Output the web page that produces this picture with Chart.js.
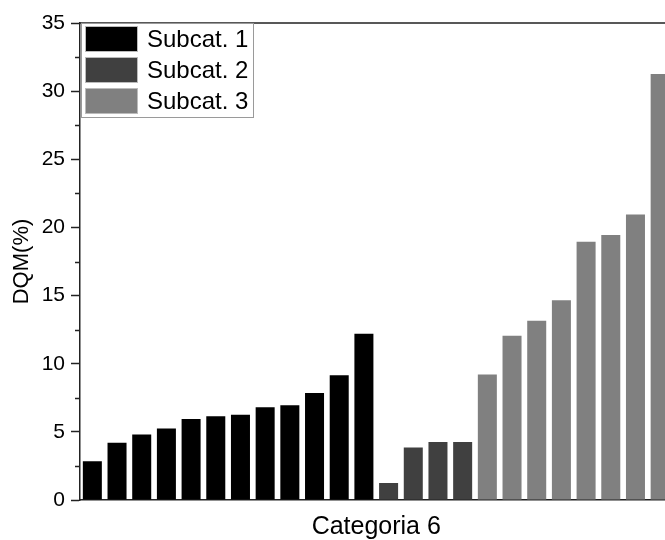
<!DOCTYPE html>
<html>
<head>
<meta charset="utf-8">
<script src="https://cdn.jsdelivr.net/npm/chart.js@4/dist/chart.umd.min.js"></script>
<style>
  html, body { margin: 0; padding: 0; overflow: hidden; background: #fff; }
  #wrap { width: 665px; height: 540px; overflow: hidden; position: relative; }
  canvas { display: block; }
</style>
</head>
<body>
<div id="wrap"><canvas id="c" width="680" height="540"></canvas></div>
<script>
// DQM values per subcategory, in plotting order
const subcat1 = [2.85, 4.2, 4.8, 5.25, 5.95, 6.15, 6.25, 6.8, 6.95, 7.85, 9.15, 12.2];
const subcat2 = [1.25, 3.85, 4.25, 4.25];
const subcat3 = [9.2, 12.05, 13.15, 14.65, 18.95, 19.45, 20.95, 31.25];
const seriesNames = ['Subcat. 1', 'Subcat. 2', 'Subcat. 3'];
const seriesColors = ['#000000', '#404040', '#808080'];
const yTicks = [0, 5, 10, 15, 20, 25, 30, 35];
const xTitle = 'Categoria 6';
const yTitle = 'DQM(%)';

const FONT = "'Liberation Sans', Arial, sans-serif";
const groups = [subcat1, subcat2, subcat3];
const total = groups.reduce((n, g) => n + g.length, 0);
const labels = Array.from({ length: total }, (_, i) => String(i + 1));

// each series occupies its own run of slots; other slots stay empty
let offset = 0;
const datasets = groups.map((g, k) => {
  const data = new Array(total).fill(null);
  g.forEach((v, i) => { data[offset + i] = v; });
  offset += g.length;
  return {
    label: seriesNames[k],
    data,
    backgroundColor: seriesColors[k],
    borderWidth: 0,
    categoryPercentage: 1,
    barPercentage: 0.77,
    grouped: false
  };
});

// top frame line, minor y ticks and the framed legend in the upper-left corner
const framePlugin = {
  id: 'frame',
  afterDraw(chart) {
    const { ctx, chartArea: a } = chart;
    const y = chart.scales.y;
    ctx.save();
    ctx.strokeStyle = '#222';
    ctx.lineWidth = 1.5;
    ctx.beginPath();
    ctx.moveTo(a.left, a.top);
    ctx.lineTo(a.right, a.top);
    ctx.moveTo(a.right, a.top);
    ctx.lineTo(a.right, a.bottom);
    ctx.stroke();

    // minor ticks halfway between major ones
    ctx.lineWidth = 1.5;
    ctx.beginPath();
    for (let i = 0; i < yTicks.length - 1; i++) {
      const v = (yTicks[i] + yTicks[i + 1]) / 2;
      const py = Math.round(y.getPixelForValue(v)) + 0.5;
      ctx.moveTo(a.left - 5, py);
      ctx.lineTo(a.left, py);
    }
    ctx.stroke();

    // legend
    const lx = a.left + 1, ly = a.top;
    const rowH = 31, boxW = 53, boxH = 26;
    ctx.strokeStyle = '#9a9a9a';
    ctx.lineWidth = 1;
    ctx.strokeRect(lx + 0.5, ly + 0.5, 172, 94);
    ctx.font = '24px ' + FONT;
    ctx.textBaseline = 'middle';
    ctx.textAlign = 'left';
    chart.data.datasets.forEach((ds, i) => {
      const by = ly + 3 + i * rowH;
      ctx.fillStyle = ds.backgroundColor;
      ctx.fillRect(lx + 4, by, boxW, boxH);
      ctx.strokeStyle = '#bbbbbb';
      ctx.strokeRect(lx + 4.5, by + 0.5, boxW - 1, boxH - 1);
      ctx.fillStyle = '#000';
      ctx.fillText(ds.label, lx + 66, by + boxH / 2 + 1);
    });
    ctx.restore();
  }
};

new Chart(document.getElementById('c'), {
  type: 'bar',
  data: { labels, datasets },
  plugins: [framePlugin],
  options: {
    responsive: false,
    animation: false,
    layout: { padding: { top: 23, right: 7.5, left: 0, bottom: 0 } },
    plugins: { legend: { display: false }, tooltip: { enabled: false } },
    scales: {
      x: {
        ticks: { display: false },
        grid: { display: false },
        border: { display: true, color: '#222', width: 1.5 },
        title: {
          display: true,
          text: xTitle,
          color: '#000',
          font: { family: FONT, size: 25, lineHeight: 1 },
          padding: { top: 0, bottom: 0 }
        },
        afterFit(s) { s.height = 40; }
      },
      y: {
        min: 0,
        max: 35,
        afterBuildTicks(s) { s.ticks = yTicks.map(v => ({ value: v })); },
        ticks: {
          color: '#000',
          font: { family: FONT, size: 21 },
          padding: 6
        },
        grid: {
          drawOnChartArea: false,
          drawTicks: true,
          tickLength: 9,
          tickColor: '#222',
          tickWidth: 1.5
        },
        border: { display: true, color: '#222', width: 1.5 },
        title: {
          display: true,
          text: yTitle,
          color: '#000',
          font: { family: FONT, size: 22, lineHeight: 1.2 },
          padding: { top: 9, bottom: 0 }
        },
        afterFit(s) { s.width = 80; }
      }
    }
  }
});
</script>
</body>
</html>
